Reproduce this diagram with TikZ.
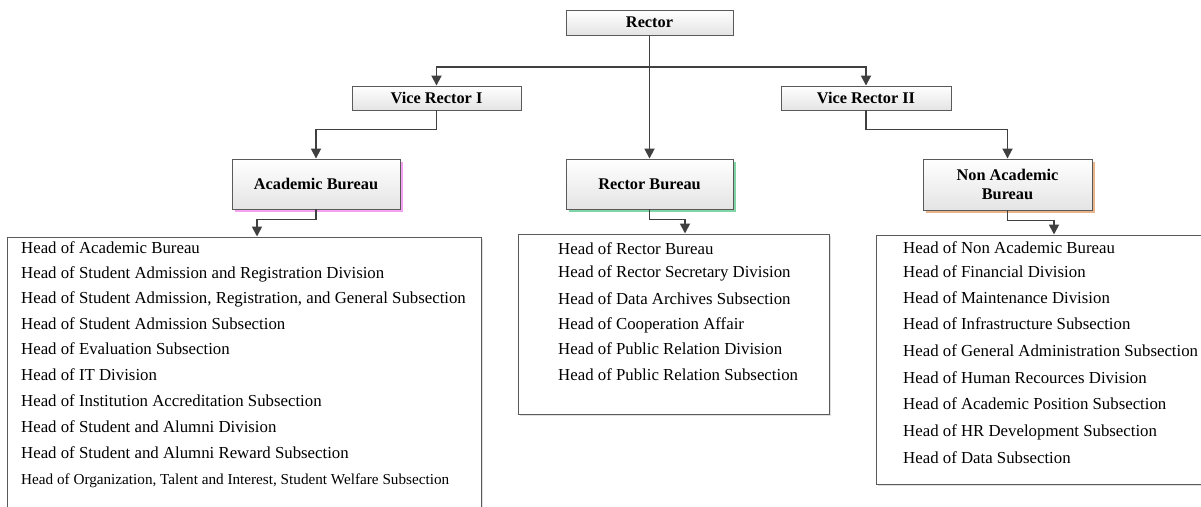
\documentclass[tikz,border=0pt]{standalone}
\usepackage{fontspec}
\setmainfont{Liberation Serif}
\usetikzlibrary{arrows.meta,shadows}
\definecolor{linec}{HTML}{404040}
\definecolor{boxc}{HTML}{5A5A5A}
\definecolor{boxbot}{HTML}{E4E4E4}
\definecolor{pinkc}{HTML}{F2A2EE}
\definecolor{greenc}{HTML}{80D4A6}
\definecolor{orangec}{HTML}{E9B48A}
\begin{document}
\begin{tikzpicture}[x=1pt,y=-1pt,
  conn/.style={draw=linec, line width=1.8pt},
  arr/.style={conn, -{Triangle[length=10pt,width=10pt]}},
  hbox/.style={draw=boxc, line width=0.9pt, top color=white, bottom color=boxbot,
    font=\fontsize{16.3}{19}\selectfont\bfseries, align=center, inner sep=0pt},
  cshadow/.style={drop shadow={shadow xshift=3pt, shadow yshift=-3pt, fill=#1, opacity=1}},
  listbox/.style={draw=boxc, line width=1pt, fill=white, inner sep=0pt,
    drop shadow={shadow xshift=2pt, shadow yshift=-2pt, fill=black!12, opacity=1}},
  item/.style={anchor=base west, inner sep=0pt, font=\fontsize{16.8}{20}\selectfont},
]
\useasboundingbox (0,0) rectangle (1201,506);
\clip (0,0) rectangle (1201,506);
\fill[white] (0,0) rectangle (1201,506);

% top level
\node[hbox, minimum width=167pt, minimum height=25pt] (rector) at (649.5,22.5) {Rector};
\node[hbox, minimum width=169pt, minimum height=24pt] (vr1) at (436.5,98) {Vice Rector I};
\node[hbox, minimum width=170pt, minimum height=24pt] (vr2) at (866,98) {Vice Rector II};

% bureaus
\node[hbox, cshadow=pinkc, minimum width=168pt, minimum height=50pt] (ab) at (316,184) {Academic Bureau};
\node[hbox, cshadow=greenc, minimum width=167pt, minimum height=50pt] (rb) at (649.5,184) {Rector Bureau};
\node[hbox, cshadow=orangec, minimum width=169pt, minimum height=51pt] (nab) at (1007.5,184.5) {Non Academic\\Bureau};

% list boxes
\node[listbox, minimum width=474pt, minimum height=300pt] (l1) at (244,387) {};
\node[listbox, minimum width=311pt, minimum height=180pt] (l2) at (673.5,324) {};
\node[listbox, minimum width=339pt, minimum height=249pt] (l3) at (1045.5,359.5) {};

% connectors
\coordinate (j1) at (649.5,67);
\draw[conn] (rector.south) -- (j1);
\draw[arr] (j1) -| (vr1.north);
\draw[arr] (j1) -| (vr2.north);
\draw[arr] (j1) -- (rb.north);
\draw[arr] (vr1.south) -- ++(0,19) -| (ab.north);
\draw[arr] (vr2.south) -- ++(0,19) -| (nab.north);
\coordinate (t1) at (257,0);
\coordinate (t2) at (685,0);
\coordinate (t3) at (1054,0);
\draw[arr] (ab.south) -- ++(0,10) -| (l1.north -| t1);
\draw[arr] (rb.south) -- ++(0,10) -| (l2.north -| t2);
\draw[arr] (nab.south) -- ++(0,10) -| (l3.north -| t3);

% left list
\node[item] (a1) at (21,253.5) {Head of Academic Bureau};
\node[item] (a2) at (21,278.5) {Head of Student Admission and Registration Division};
\node[item] (a3) at (21,303.5) {Head of Student Admission, Registration, and General Subsection};
\node[item] (a4) at (21,329.5) {Head of Student Admission Subsection};
\node[item] (a5) at (21,354.5) {Head of Evaluation Subsection};
\node[item] (a6) at (21,380.5) {Head of IT Division};
\node[item] (a7) at (21,406.5) {Head of Institution Accreditation Subsection};
\node[item] (a8) at (21,432.5) {Head of Student and Alumni Division};
\node[item] (a9) at (21,458.5) {Head of Student and Alumni Reward Subsection};
\node[item, font=\fontsize{15.2}{18}\selectfont] (a10) at (21,484.5) {Head of Organization, Talent and Interest, Student Welfare Subsection};

% middle list
\node[item] (b1) at (558,254.5) {Head of Rector Bureau};
\node[item] (b2) at (558,277.5) {Head of Rector Secretary Division};
\node[item] (b3) at (558,304.5) {Head of Data Archives Subsection};
\node[item] (b4) at (558,329.5) {Head of Cooperation Affair};
\node[item] (b5) at (558,354.5) {Head of Public Relation Division};
\node[item] (b6) at (558,380.5) {Head of Public Relation Subsection};

% right list
\node[item] (c1) at (903,253.5) {Head of Non Academic Bureau};
\node[item] (c2) at (903,277.5) {Head of Financial Division};
\node[item] (c3) at (903,303.5) {Head of Maintenance Division};
\node[item] (c4) at (903,329.5) {Head of Infrastructure Subsection};
\node[item] (c5) at (903,356.5) {Head of General Administration Subsection};
\node[item] (c6) at (903,383.5) {Head of Human Recources Division};
\node[item] (c7) at (903,409.5) {Head of Academic Position Subsection};
\node[item] (c8) at (903,436.5) {Head of HR Development Subsection};
\node[item] (c9) at (903,463.5) {Head of Data Subsection};
\end{tikzpicture}
\end{document}
